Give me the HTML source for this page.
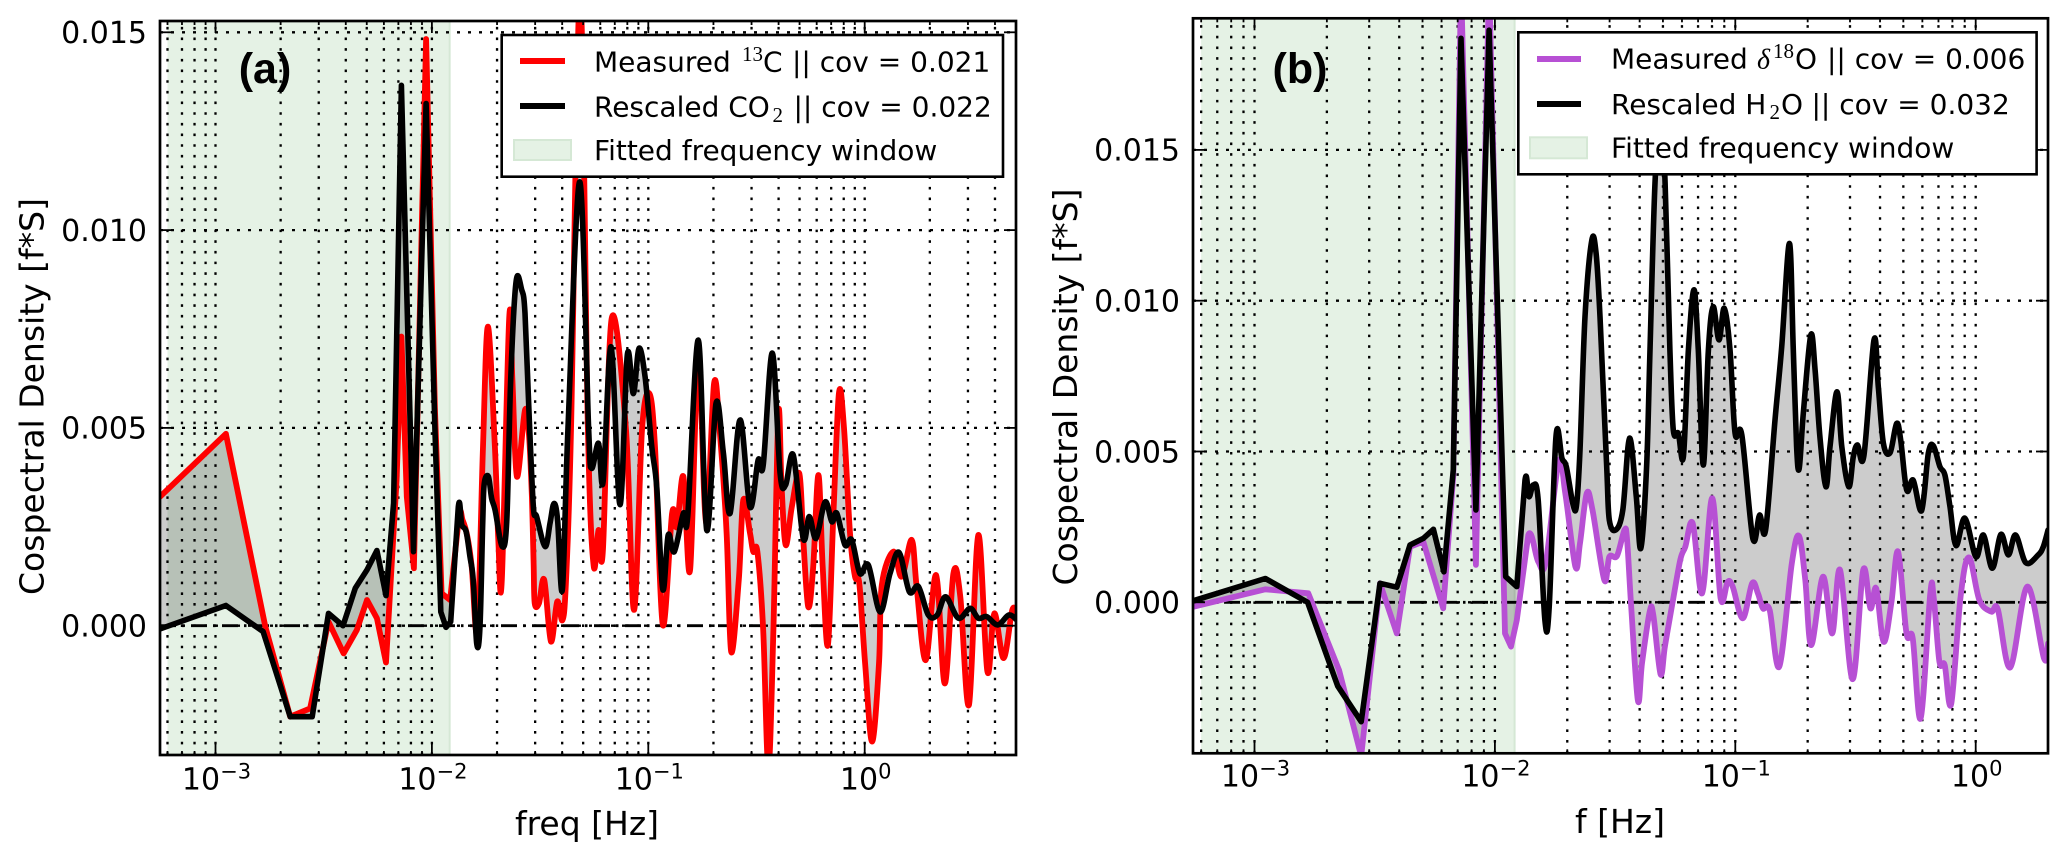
<!DOCTYPE html>
<html lang="en">
<head>
<meta charset="utf-8">
<title>Cospectral density panels</title>
<style>
html,body{margin:0;padding:0;background:#fff;}
svg{display:block;font-family:"DejaVu Sans","Liberation Sans",sans-serif;fill:#000;}
</style>
</head>
<body>
<svg id="figure" xmlns="http://www.w3.org/2000/svg" width="2067" height="859" viewBox="0 0 2067 859">
  <defs>
    <clipPath id="clip-a"><rect x="160" y="21" width="856" height="734"/></clipPath>
    <clipPath id="clip-b"><rect x="1193" y="18.3" width="855" height="735"/></clipPath>
  </defs>
  <rect x="0" y="0" width="2067" height="859" fill="#fff"/>
  <g id="panel-a"></g>
  <g id="panel-b"></g>

  <text x="265" y="83" text-anchor="middle" font-family="'Liberation Sans',sans-serif" font-weight="700" font-size="43">(a)</text>
  <text x="1300" y="83" text-anchor="middle" font-family="'Liberation Sans',sans-serif" font-weight="700" font-size="43">(b)</text>

  <text x="587" y="835" text-anchor="middle" font-size="33">freq [Hz]</text>
  <text x="1620" y="833" text-anchor="middle" font-size="33">f [Hz]</text>
  <text transform="translate(43.5,396.5) rotate(-90)" text-anchor="middle" font-size="33">Cospectral Density [f*S]</text>
  <text transform="translate(1077,387) rotate(-90)" text-anchor="middle" font-size="33">Cospectral Density [f*S]</text>

  <g>
    <rect x="501.7" y="35" width="501.3" height="141.7" fill="#fff" stroke="#000" stroke-width="2.6"/>
    <line x1="520" x2="565" y1="61" y2="61" stroke="#ff0000" stroke-width="6"/>
    <line x1="520" x2="565" y1="106" y2="106" stroke="#000" stroke-width="6"/>
    <rect x="514" y="140" width="57" height="20" fill="#e5f2e5" stroke="#d5e8d5" stroke-width="2"/>
    <text font-size="28" y="71.7"><tspan x="594">Measured</tspan><tspan x="742" y="61" font-size="21" font-family="'Liberation Serif',serif">13</tspan><tspan x="763" y="71.7">C</tspan><tspan x="792">|| cov = 0.021</tspan></text>
    <text font-size="28" y="116.7"><tspan x="594">Rescaled CO</tspan><tspan x="772.5" y="122" font-size="21" font-family="'Liberation Serif',serif">2</tspan><tspan x="793.5" y="116.7">|| cov = 0.022</tspan></text>
    <text font-size="28" x="594" y="160">Fitted frequency window</text>
  </g>

  <g>
    <rect x="1518.3" y="32.3" width="518.3" height="142" fill="#fff" stroke="#000" stroke-width="2.6"/>
    <line x1="1537" x2="1581" y1="59" y2="59" stroke="#b750d4" stroke-width="6"/>
    <line x1="1537" x2="1581" y1="104" y2="104" stroke="#000" stroke-width="6"/>
    <rect x="1530" y="137.3" width="57" height="21" fill="#e5f2e5" stroke="#d5e8d5" stroke-width="2"/>
    <text font-size="28" y="68.3"><tspan x="1611">Measured</tspan><tspan x="1757" font-style="italic" font-family="'Liberation Serif',serif">δ</tspan><tspan x="1773" y="58" font-size="21" font-family="'Liberation Serif',serif">18</tspan><tspan x="1795" y="68.3">O</tspan><tspan x="1827">|| cov = 0.006</tspan></text>
    <text font-size="28" y="114"><tspan x="1611">Rescaled H</tspan><tspan x="1769.5" y="119" font-size="21" font-family="'Liberation Serif',serif">2</tspan><tspan x="1781" y="114">O</tspan><tspan x="1811.5">|| cov = 0.032</tspan></text>
    <text font-size="28" x="1611" y="157.3">Fitted frequency window</text>
  </g>
</svg>

<script>
// Frequencies are log10(f in Hz); cospectra are in units of 0.001.
const logFreqMeasuredA = [-3.256,-2.952,-2.770,-2.655,-2.563,-2.478,-2.408,-2.347,-2.300,-2.254,-2.212,-2.163,-2.141,-2.116,-2.083,-2.027,-1.986,-1.955,-1.916,-1.875,-1.858,-1.836,-1.816,-1.790,-1.764,-1.741,-1.709,-1.693,-1.677,-1.643,-1.628,-1.607,-1.570,-1.551,-1.538,-1.530,-1.525,-1.505,-1.481,-1.450,-1.421,-1.397,-1.381,-1.357,-1.315,-1.279,-1.253,-1.230,-1.210,-1.169,-1.103,-1.066,-1.029,-0.995,-0.969,-0.933,-0.890,-0.868,-0.838,-0.807,-0.769,-0.733,-0.696,-0.669,-0.638,-0.617,-0.582,-0.561,-0.530,-0.515,-0.496,-0.469,-0.445,-0.422,-0.399,-0.384,-0.365,-0.337,-0.302,-0.284,-0.261,-0.238,-0.214,-0.194,-0.170,-0.145,-0.119,-0.096,-0.068,-0.045,-0.025,0.002,0.034,0.066,0.079,0.132,0.171,0.217,0.240,0.282,0.330,0.370,0.410,0.442,0.482,0.525,0.567,0.599,0.642,0.682,0.704];
const cospecMeasuredA = [3.26,4.85,-0.02,-2.30,-2.09,0.10,-0.70,-0.11,0.65,0.19,-0.93,3.68,7.31,3.26,1.45,14.83,5.5,0.82,0.65,2.76,2.67,2.25,1.49,-0.11,4.52,7.56,4.52,2.17,1.15,7.77,6.21,3.77,5.45,4.78,3.26,1.6,0.57,0.57,1.16,-0.40,0.61,0.14,1.07,4.95,16.0,4.95,1.53,2.42,1.9,7.77,4.95,0.4,4.95,5.87,4.52,0.02,2.84,2.5,3.77,1.41,6.8,2.6,6.13,4.87,2.34,-0.66,1.16,3.18,2.34,1.87,1.87,-0.11,-3.6,-0.11,5.37,3.51,2.04,3.0,3.85,2.21,0.48,1.49,3.81,1.49,-0.49,2.76,5.87,5.03,2.34,1.24,1.07,-0.95,-2.93,-0.95,1.03,1.87,1.24,2.17,0.99,-0.87,1.28,-1.46,1.32,0.73,-2.0,2.29,-1.16,0.31,-0.82,0.4,0.27];

const logFreqRescaledA = [-3.256,-2.952,-2.780,-2.655,-2.553,-2.478,-2.411,-2.354,-2.300,-2.254,-2.212,-2.177,-2.141,-2.085,-2.027,-1.986,-1.959,-1.935,-1.913,-1.878,-1.862,-1.842,-1.824,-1.809,-1.793,-1.778,-1.765,-1.758,-1.739,-1.724,-1.708,-1.675,-1.654,-1.636,-1.611,-1.585,-1.570,-1.550,-1.531,-1.516,-1.477,-1.454,-1.436,-1.419,-1.397,-1.371,-1.317,-1.276,-1.262,-1.230,-1.209,-1.172,-1.131,-1.097,-1.069,-1.043,-1.015,-0.984,-0.961,-0.933,-0.908,-0.880,-0.838,-0.818,-0.769,-0.730,-0.687,-0.653,-0.622,-0.576,-0.530,-0.492,-0.469,-0.427,-0.391,-0.365,-0.330,-0.284,-0.256,-0.225,-0.183,-0.152,-0.129,-0.091,-0.060,-0.022,0.017,0.071,0.117,0.159,0.206,0.248,0.294,0.335,0.374,0.433,0.487,0.525,0.564,0.615,0.666,0.704];
const cospecRescaledA = [-0.08,0.51,-0.15,-2.30,-2.30,0.31,0.0,0.95,1.41,1.90,0.76,3.1,13.66,1.87,13.2,5.0,0.35,-0.04,0.10,3.0,2.55,2.38,1.74,1.16,-0.45,-0.06,2.67,3.6,3.77,3.22,2.92,2.0,2.67,6.21,8.7,8.49,7.9,5.2,3.0,2.76,2.0,2.6,3.09,2.67,0.92,5.0,11.22,5.0,3.98,4.61,3.64,7.05,3.06,6.84,5.87,7.01,6.29,4.52,3.51,0.92,2.29,1.87,2.84,2.76,7.22,2.42,5.62,4.36,2.84,5.2,3.0,4.19,4.06,6.89,3.85,3.56,4.31,2.21,2.76,2.21,3.13,2.63,2.84,2.04,2.17,1.32,1.53,0.35,1.32,1.85,0.86,0.99,0.27,0.27,0.73,0.19,0.44,0.19,0.23,0.02,0.27,0.14];

const logFreqMeasuredB = [-3.255,-2.955,-2.776,-2.648,-2.556,-2.478,-2.408,-2.353,-2.298,-2.215,-2.173,-2.141,-2.079,-2.024,-1.958,-1.933,-1.909,-1.861,-1.820,-1.788,-1.735,-1.707,-1.665,-1.646,-1.618,-1.594,-1.545,-1.524,-1.492,-1.461,-1.450,-1.433,-1.405,-1.388,-1.356,-1.341,-1.311,-1.293,-1.264,-1.229,-1.208,-1.177,-1.138,-1.096,-1.061,-1.032,-1.011,-0.969,-0.930,-0.906,-0.885,-0.857,-0.817,-0.765,-0.735,-0.709,-0.684,-0.635,-0.597,-0.564,-0.512,-0.468,-0.438,-0.414,-0.383,-0.351,-0.323,-0.288,-0.262,-0.229,-0.189,-0.175,-0.151,-0.129,-0.102,-0.063,-0.028,0.015,0.064,0.092,0.144,0.215,0.284,0.301];
const cospecMeasuredB = [-0.15,0.43,0.30,-2.25,-5.1,0.63,-1.03,1.84,2.01,-0.2,4.2,20.6,1.24,20.6,-1.03,-1.47,-0.59,2.23,1.35,1.35,4.66,3.61,1.18,1.96,3.61,3.06,0.74,1.51,1.54,2.40,2.07,-0.15,-3.26,-2.02,-0.31,-0.42,-2.38,-1.47,-0.15,1.4,1.84,2.62,0.30,3.45,0.13,0.68,0.52,-0.53,0.63,0.30,-0.2,-0.26,-2.13,1.29,2.20,0.74,-1.42,0.85,-1.03,1.07,-2.55,1.07,-0.2,0.46,-1.31,-0.03,1.68,-1.03,-1.19,-3.85,0.30,0.19,-1.97,-2.08,-3.37,0.19,1.49,0.08,-0.31,-0.23,-2.16,0.52,-1.86,-1.36];

const logFreqRescaledB = [-3.255,-2.955,-2.779,-2.654,-2.556,-2.478,-2.408,-2.353,-2.298,-2.256,-2.212,-2.173,-2.141,-2.079,-2.024,-1.955,-1.909,-1.875,-1.858,-1.840,-1.820,-1.792,-1.774,-1.746,-1.721,-1.703,-1.676,-1.661,-1.646,-1.625,-1.597,-1.579,-1.563,-1.535,-1.524,-1.497,-1.468,-1.440,-1.412,-1.393,-1.369,-1.355,-1.334,-1.310,-1.292,-1.272,-1.258,-1.237,-1.216,-1.195,-1.172,-1.154,-1.133,-1.112,-1.092,-1.068,-1.046,-1.022,-1.001,-0.973,-0.927,-0.899,-0.874,-0.835,-0.807,-0.775,-0.759,-0.745,-0.734,-0.717,-0.686,-0.668,-0.648,-0.623,-0.606,-0.577,-0.557,-0.528,-0.509,-0.492,-0.465,-0.423,-0.405,-0.384,-0.356,-0.329,-0.312,-0.287,-0.260,-0.225,-0.197,-0.176,-0.149,-0.128,-0.107,-0.082,-0.045,0.001,0.032,0.069,0.105,0.136,0.166,0.209,0.260,0.281,0.301];
const cospecRescaledB = [0.05,0.79,0.0,-2.78,-3.96,0.63,0.50,1.9,2.12,2.42,1.01,4.39,18.7,3.06,18.97,0.85,0.52,4.05,3.5,3.89,3.39,-0.59,-0.15,5.5,4.77,4.5,3.28,3.19,5.05,9.47,12.0,11.57,9.47,4.5,2.73,2.4,3.06,5.44,3.5,1.79,4.5,8.37,13.9,16.5,13.9,8.37,5.71,5.6,4.83,8.37,10.36,8.37,4.55,8.37,9.8,8.7,9.75,8.37,5.6,5.55,2.12,2.89,2.4,6.04,8.47,11.9,8.47,5.16,4.44,6.27,8.86,7.7,5.49,3.83,5.16,6.98,5.16,3.83,4.83,5.22,4.86,8.7,7.15,5.27,4.96,5.93,5.38,3.72,4.05,3.04,4.94,5.19,4.5,4.22,3.17,1.88,2.79,1.51,2.23,1.13,2.25,1.57,2.23,1.31,1.57,1.84,2.4];

const xDecades = [-3,-2,-1,0];
const xTickLabels = ['\u22123','\u22122','\u22121','0'];
const yTickValues = [0,5,10,15];
const yTickLabels = ['0.000','0.005','0.010','0.015'];
const fittedWindow = [-3.222,-1.918];
const smoothAboveLogFreq = -1.9;

const NS = 'http://www.w3.org/2000/svg';
function make(tag, attrs, parent){
  const n = document.createElementNS(NS, tag);
  for (const k in attrs) n.setAttribute(k, attrs[k]);
  parent.appendChild(n);
  return n;
}

// Straight segments at low frequency, Catmull-Rom spline through the dense high-frequency part.
function curveSegments(pts, smooth){
  let d = '';
  for (let i = 0; i < pts.length - 1; i++){
    const p1 = pts[i], p2 = pts[i+1];
    if (!smooth(p1, p2)){
      d += 'L' + p2.x.toFixed(1) + ' ' + p2.y.toFixed(1);
      continue;
    }
    const p0 = pts[Math.max(i-1, 0)], p3 = pts[Math.min(i+2, pts.length-1)];
    const c1x = p1.x + (p2.x - p0.x) / 6, c1y = p1.y + (p2.y - p0.y) / 6;
    const c2x = p2.x - (p3.x - p1.x) / 6, c2y = p2.y - (p3.y - p1.y) / 6;
    d += 'C' + c1x.toFixed(1) + ' ' + c1y.toFixed(1) + ' ' + c2x.toFixed(1) + ' ' + c2y.toFixed(1) + ' ' + p2.x.toFixed(1) + ' ' + p2.y.toFixed(1);
  }
  return d;
}

function drawPanel(cfg){
  const root = document.getElementById(cfg.id);
  const sx = l => cfg.x0 + l * cfg.decade;
  const sy = v => cfg.y0 - v * cfg.unit;
  const plot = make('g', {'clip-path':'url(#'+cfg.clip+')'}, root);
  
  

  const span = make('rect', {x:sx(fittedWindow[0]), y:cfg.top, width:sx(fittedWindow[1])-sx(fittedWindow[0]), height:cfg.bottom-cfg.top, fill:'#e5f2e5'}, plot);
  
  
  const spanEdge = make('line', {x1:sx(fittedWindow[1]), x2:sx(fittedWindow[1]), y1:cfg.top, y2:cfg.bottom, stroke:'#d5e8d5', 'stroke-width':2}, plot);
  
  

  const thresholdX = sx(smoothAboveLogFreq);
  const smooth = (a, b) => Math.min(a.x, b.x) >= thresholdX;
  const ptsM = cfg.fm.map((l,i)=>({x:sx(l), y:sy(cfg.cm[i])}));
  const ptsR = cfg.fr.map((l,i)=>({x:sx(l), y:sy(cfg.cr[i])}));
  const start = p => 'M' + p.x.toFixed(1) + ' ' + p.y.toFixed(1);
  const lastM = ptsM[ptsM.length-1];
  const ptsRRev = ptsR.slice().reverse();
  const dM = start(ptsM[0]) + curveSegments(ptsM, smooth);
  const dR = start(ptsR[0]) + curveSegments(ptsR, smooth);
  const dFill = dM + 'L' + ptsRRev[0].x.toFixed(1) + ' ' + ptsRRev[0].y.toFixed(1) + curveSegments(ptsRRev, smooth) + 'Z';

  const fill = make('path', {d:dFill, fill:'#000', 'fill-opacity':0.2}, plot);
  
  

  // vertical grid, major and minor
  const lo = cfg.logMin, hi = cfg.logMax;
  const ticksX = [];
  for (let d=-4; d<=1; d++){
    for (let m=1; m<=9; m++){
      const l = d + Math.log10(m);
      if (l > lo && l < hi - 0.003) ticksX.push({l:l, major:m===1});
    }
  }
  ticksX.forEach(t=>{
    const g = make('line', {x1:sx(t.l), x2:sx(t.l), y1:cfg.bottom, y2:cfg.top, stroke:'#000', 'stroke-width':2.3, 'stroke-dasharray':'2.6 8.07'}, plot);
    
    
  });
  yTickValues.forEach(v=>{
    const g = make('line', {x1:cfg.left, x2:cfg.right, y1:sy(v), y2:sy(v), stroke:'#000', 'stroke-width':2.3, 'stroke-dasharray':'3 8'}, plot);
    
    
  });
  const zero = make('line', {x1:cfg.left, x2:cfg.right, y1:sy(0), y2:sy(0), stroke:'#000', 'stroke-width':2.8, 'stroke-dasharray':'16 6 2.5 6.5'}, plot);
  
  

  const lineM = make('path', {d:dM, fill:'none', stroke:cfg.color, 'stroke-width':5.8, 'stroke-linejoin':'round', 'stroke-linecap':'round'}, plot);
  
  
  const lineR = make('path', {d:dR, fill:'none', stroke:'#000', 'stroke-width':5.6, 'stroke-linejoin':'round', 'stroke-linecap':'round'}, plot);
  
  

  // ticks
  ticksX.forEach(t=>{
    const len = t.major ? 12 : 4;
    const b = make('line', {x1:sx(t.l), x2:sx(t.l), y1:cfg.bottom, y2:cfg.bottom-len, stroke:'#000', 'stroke-width':1.8}, root);
    
    
    const u = make('line', {x1:sx(t.l), x2:sx(t.l), y1:cfg.top, y2:cfg.top+len, stroke:'#000', 'stroke-width':1.8}, root);
    
    
  });
  yTickValues.forEach((v,i)=>{
    const a = make('line', {x1:cfg.left, x2:cfg.left+12, y1:sy(v), y2:sy(v), stroke:'#000', 'stroke-width':1.8}, root);
    
    
    const c = make('line', {x1:cfg.right, x2:cfg.right-12, y1:sy(v), y2:sy(v), stroke:'#000', 'stroke-width':1.8}, root);
    
    
    const t = make('text', {x:cfg.left-13, y:sy(v)+10.8, 'text-anchor':'end', 'font-size':30}, root);
    
    
    t.textContent = yTickLabels[i];
  });
  xDecades.forEach((d,i)=>{
    const t = make('text', {x:sx(d)+1, y:cfg.xLabelY, 'text-anchor':'middle', 'font-size':30}, root);
    
    
    t.appendChild(document.createTextNode('10'));
    const s = make('tspan', {dy:-11, 'font-size':21}, t);
    s.textContent = xTickLabels[i];
  });

  const frame = make('rect', {x:cfg.left, y:cfg.top, width:cfg.right-cfg.left, height:cfg.bottom-cfg.top, fill:'none', stroke:'#000', 'stroke-width':2.7}, root);
  
  
}

drawPanel({id:'panel-a', clip:'clip-a', x0:864.7, decade:216.4, y0:625.7, unit:39.56, left:160, right:1016, top:21, bottom:755, logMin:-3.256, logMax:0.699, xLabelY:789.5, color:'#ff0000',
  fm:logFreqMeasuredA, cm:cospecMeasuredA, fr:logFreqRescaledA, cr:cospecRescaledA});
drawPanel({id:'panel-b', clip:'clip-b', x0:1975.7, decade:240.4, y0:602.3, unit:30.16, left:1193, right:2048, top:18.3, bottom:753.3, logMin:-3.256, logMax:0.301, xLabelY:786.7, color:'#b750d4',
  fm:logFreqMeasuredB, cm:cospecMeasuredB, fr:logFreqRescaledB, cr:cospecRescaledB});

// keep the legends and panel labels above the plotted panels
const fig = document.getElementById('figure');
Array.from(fig.children).filter(n => n.tagName === 'text' || (n.tagName === 'g' && !n.id)).forEach(n => fig.appendChild(n));
</script>
</body>
</html>
